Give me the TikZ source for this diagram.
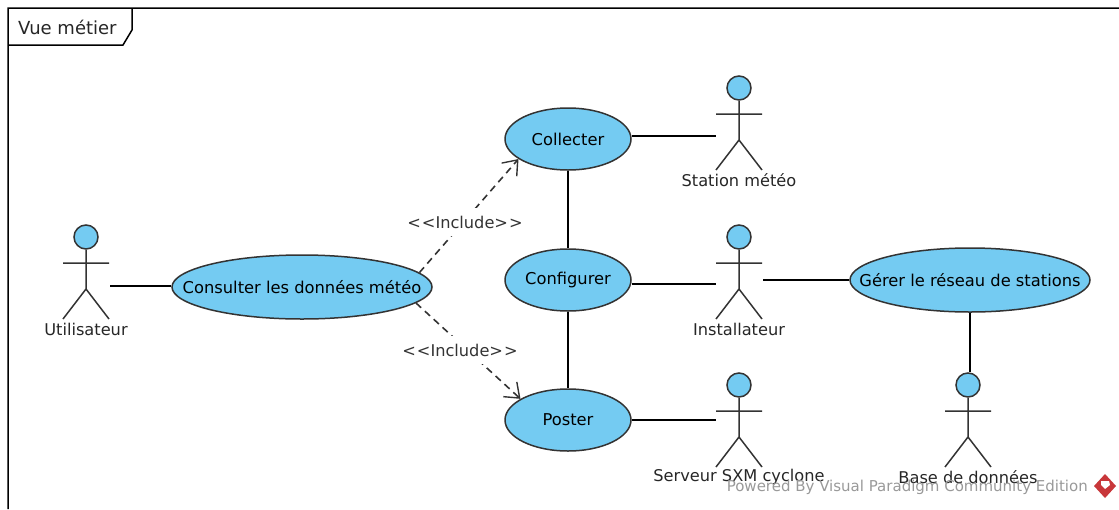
\documentclass[tikz,border=0pt]{standalone}
\usepackage{fontspec}
\setmainfont{DejaVu Sans}
\usetikzlibrary{arrows.meta}
\usetikzlibrary{shapes.geometric}

\definecolor{casefill}{HTML}{74CBF2}
\definecolor{inkline}{HTML}{333333}
\definecolor{markgray}{HTML}{999999}
\definecolor{markred}{HTML}{C8373A}

\tikzset{
  usecase/.style={ellipse,draw=inkline,fill=casefill,line width=1.5pt,
    inner xsep=-40pt,inner ysep=-5pt,font=\fontsize{16.3}{19}\selectfont},
  acthead/.style={circle,draw=inkline,fill=casefill,line width=1.5pt,minimum size=24pt,inner sep=0pt},
  actlabel/.style={font=\fontsize{16.2}{19}\selectfont,text=black!85,inner sep=0pt},
  assoc/.style={black,line width=1.5pt},
  incl/.style={inkline,line width=1.6pt,dash pattern=on 7pt off 5pt,
    -{Straight Barb[length=13pt,width=20pt,line width=1.4pt]}},
  incllabel/.style={fill=white,inner sep=0pt,minimum height=28pt,font=\fontsize{16.2}{19}\selectfont,text=black!80},
}

\begin{document}
\begin{tikzpicture}[x=1pt,y=-1pt]
\useasboundingbox (0,0) rectangle (1119,509);

% frame
\draw [line width=1.5pt,black]
    (8,509) -- (8,8) -- (1119,8)
    (8,45) -- (123,45) -- (132,30) -- (132,8) ;
\node [actlabel,anchor=west,font=\fontsize{18}{21}\selectfont] (frametitle) at (18,27) {Vue métier} ;

% use cases
\node [usecase,minimum width=126pt,minimum height=62pt] (collecter) at (568,139) {Collecter} ;
\node [usecase,minimum width=126pt,minimum height=62pt] (configurer) at (568,280) {Configurer} ;
\node [usecase,minimum width=126pt,minimum height=62pt] (poster) at (568,420) {Poster} ;
\node [usecase,minimum width=260pt,minimum height=64pt] (consulter) at (302,287) {Consulter les données météo} ;
\node [usecase,minimum width=240pt,minimum height=64pt] (gerer) at (970,280) {Gérer le réseau de stations} ;

% actors
\foreach \name/\x/\y/\txt in {
    utilisateur/86/237/Utilisateur,
    station/739/88/Station météo,
    installateur/739/237/Installateur,
    serveur/739/385/Serveur SXM cyclone,
    base/968/385/Base de données
} {
    \node [acthead] (\name) at (\x,\y) {} ;
    \draw [inkline,line width=1.5pt]
        (\name.south) -- (\x,\y+52)
        (\x-23,\y+26) -- (\x+23,\y+26)
        (\x-23,\y+82) -- (\x,\y+52) -- (\x+23,\y+82) ;
    \node [actlabel] (\name-label) at (\x,\y+92) {\txt} ;
}

% free ends next to the actors
\coordinate (utilisateur-end) at (110,286) ;
\coordinate (station-end) at (716,136) ;
\coordinate (installateur-west) at (716,284) ;
\coordinate (installateur-east) at (763,280) ;
\coordinate (serveur-end) at (716,420) ;

% associations
\draw [assoc] (utilisateur-end) -- (consulter.west |- utilisateur-end) ;
\draw [assoc] (collecter.east |- station-end) -- (station-end) ;
\draw [assoc] (configurer.east |- installateur-west) -- (installateur-west) ;
\draw [assoc] (installateur-east) -- (gerer.west |- installateur-east) ;
\draw [assoc] (poster.east |- serveur-end) -- (serveur-end) ;
\draw [assoc] (collecter) -- (configurer) ;
\draw [assoc] (configurer) -- (poster) ;
\draw [assoc] (gerer.south) -- (gerer.south |- base.north) ;

% includes
\draw [incl] (consulter.7.4) -- (collecter.202.4) ;
\draw [incl] (consulter.-8.5) -- (poster.156.8) ;
\node [incllabel] (inclhaut) at (465,222) {<\kern1pt<Include>\kern1pt>} ;
\node [incllabel] (inclbas) at (460,350) {<\kern1pt<Include>\kern1pt>} ;

% watermark
\node [font=\fontsize{15}{18}\selectfont,text=markgray,anchor=east,inner sep=0pt] (watermark)
    at (1088,487) {Powered By Visual Paradigm Community Edition} ;
\fill [markred] (1105,474) -- (1116,486) -- (1105,498) -- (1094,486) -- cycle ;
\fill [white] (1101,481) -- (1109,481) -- (1110,485) -- (1105,489) -- (1101,485) -- cycle ;
\end{tikzpicture}
\end{document}
